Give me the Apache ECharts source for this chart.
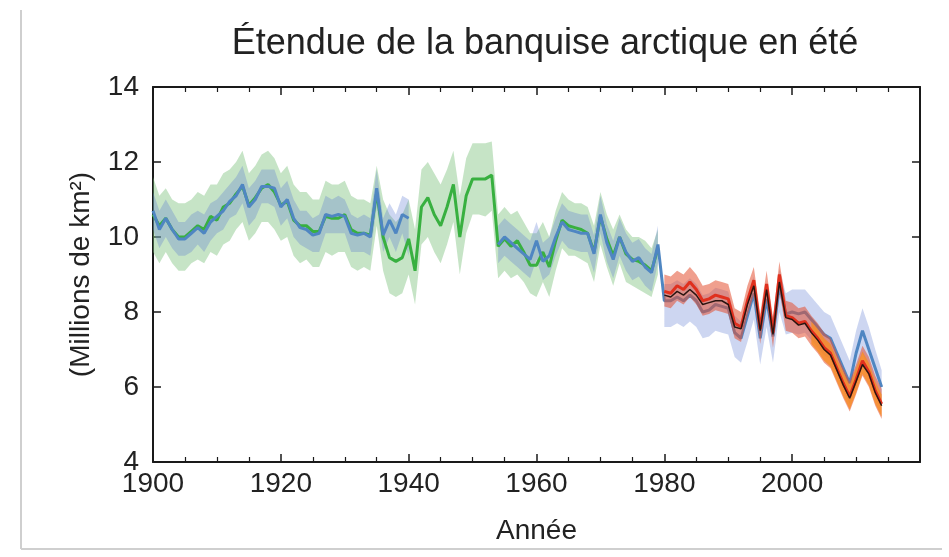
<!DOCTYPE html>
<html><head><meta charset="utf-8">
<script src="https://cdn.jsdelivr.net/npm/echarts@6/dist/echarts.min.js"></script>
<style>html,body{margin:0;padding:0;background:#fff}#c{width:949px;height:557px}</style>
</head><body><div id="c"></div>
<script>
// ---- DATA ----
const histStart = 1900; // 1900..1979
const satStart = 1980;  // 1980..2014
const orangeStart = 2003; // 2003..2014
const xTicks = [1900, 1920, 1940, 1960, 1980, 2000];
const yTicks = [4, 6, 8, 10, 12, 14];

const blueHist = [10.7,10.2,10.5,10.2,9.95,9.95,10.1,10.25,10.1,10.4,
  10.55,10.7,10.95,11.1,11.4,10.8,11.0,11.35,11.35,11.3,
  10.8,11.0,10.5,10.25,10.2,10.05,10.1,10.6,10.55,10.6,
  10.55,10.1,10.05,10.1,10.0,11.3,10.05,10.45,10.1,10.6,
  10.5,null,null,null,null,null,null,null,null,null,
  null,null,null,null,9.8,10.0,9.85,9.7,9.55,9.4,
  9.9,9.35,9.5,10.0,10.4,10.2,10.15,10.1,10.1,9.55,
  10.6,9.85,9.4,10.0,9.6,9.35,9.45,9.2,9.05,9.8];
const blueHistHi = [11.2,10.7,11.0,10.7,10.4,10.4,10.6,10.7,10.6,10.9,
  11.0,11.2,11.4,11.6,11.9,11.3,11.5,11.8,11.8,11.8,
  11.3,11.5,11.0,10.7,10.7,10.5,10.6,11.1,11.0,11.1,
  11.0,10.6,10.5,10.6,10.5,11.8,10.5,10.9,10.6,11.1,
  11.0,null,null,null,null,null,null,null,null,null,
  null,null,null,null,10.3,10.5,10.35,10.2,10.05,9.9,
  10.4,9.85,10.0,10.5,10.9,10.7,10.65,10.6,10.6,10.05,
  11.1,10.35,9.9,10.5,10.1,9.85,9.95,9.7,9.55,10.3];
const blueHistLo = [10.2,9.7,10.0,9.7,9.5,9.5,9.6,9.8,9.6,9.9,
  10.1,10.2,10.5,10.6,10.9,10.3,10.5,10.9,10.9,10.8,
  10.3,10.5,10.0,9.8,9.7,9.6,9.6,10.1,10.1,10.1,
  10.1,9.6,9.6,9.6,9.5,10.8,9.6,10.0,9.6,10.1,
  9.5,null,null,null,null,null,null,null,null,null,
  null,null,null,null,9.3,9.5,9.35,9.2,9.05,8.9,
  9.4,8.85,9.0,9.5,9.9,9.7,9.65,9.6,9.6,9.05,
  10.1,9.35,8.9,9.5,9.1,8.85,8.95,8.7,8.55,9.3];

const greenHist = [10.6,10.3,10.5,10.2,10.0,10.0,10.15,10.3,10.2,10.55,
  10.45,10.8,10.9,11.15,11.35,10.85,11.05,11.3,11.4,11.2,
  10.85,10.95,10.45,10.3,10.3,10.15,10.15,10.55,10.5,10.5,
  10.6,10.2,10.1,10.1,10.05,11.2,10.0,9.45,9.35,9.45,
  9.95,9.1,10.8,11.05,10.6,10.3,10.8,11.4,10.0,11.1,
  11.55,11.55,11.55,11.65,9.75,9.95,9.75,9.9,9.6,9.25,
  9.25,9.6,9.2,9.9,10.45,10.3,10.25,10.2,10.1,9.6,
  10.55,9.95,9.5,10.0,9.55,9.4,9.35,9.25,9.1,9.7];
const greenHi = [11.6,11.1,11.3,11.0,10.9,10.9,11.0,11.2,11.1,11.4,
  11.4,11.7,11.8,12.0,12.3,11.7,11.9,12.2,12.3,12.1,
  11.7,11.9,11.4,11.2,11.2,11.0,11.0,11.5,11.4,11.4,
  11.5,11.1,11.0,11.0,10.9,11.9,11.0,10.6,10.4,10.6,
  11.0,10.2,11.8,12.0,11.7,11.4,11.8,12.3,11.1,12.1,
  12.5,12.5,12.5,12.55,10.6,10.8,10.6,10.7,10.4,10.1,
  10.1,10.4,10.0,10.7,11.2,11.0,10.9,10.9,10.8,10.3,
  11.2,10.6,10.2,10.6,10.2,10.0,10.0,9.9,9.7,10.2];
const greenLo = [9.6,9.3,9.6,9.3,9.1,9.1,9.3,9.4,9.3,9.6,
  9.5,9.8,9.9,10.2,10.4,9.9,10.1,10.4,10.4,10.2,
  9.9,10.0,9.5,9.3,9.4,9.2,9.2,9.6,9.5,9.6,
  9.6,9.2,9.1,9.2,9.1,10.3,9.1,8.5,8.4,8.5,
  9.0,8.2,9.8,10.0,9.6,9.3,9.8,10.4,9.0,10.1,
  10.6,10.6,10.55,10.7,8.9,9.1,8.9,9.0,8.8,8.5,
  8.4,8.8,8.4,9.1,9.7,9.5,9.5,9.4,9.3,8.8,
  9.8,9.2,8.7,9.3,8.8,8.7,8.6,8.5,8.4,9.0];

const blueSat = [8.3,8.3,8.4,8.3,8.45,8.3,8.0,8.05,8.2,8.15,
  8.1,7.45,7.3,7.9,8.5,7.3,8.35,7.35,8.7,7.95,
  8.0,7.95,8.0,7.8,7.6,7.4,7.3,6.9,6.5,6.1,
  6.9,7.5,7.0,6.5,6.0];
const blueSatHi = [8.75,8.75,8.85,8.75,8.9,8.75,8.45,8.5,8.65,8.6,
  8.55,7.9,7.75,8.35,8.95,7.75,8.8,7.8,9.15,8.5,
  8.6,8.6,8.6,8.4,8.2,8.0,7.9,7.5,7.1,6.7,
  7.5,8.1,7.6,7.0,6.45];
const blueSatLo = [7.6,7.6,7.7,7.6,7.75,7.6,7.3,7.35,7.5,7.45,
  7.4,6.8,6.65,7.2,7.8,6.6,7.6,6.65,8.0,7.4,
  7.45,7.4,7.45,7.25,7.05,6.85,6.75,6.35,5.95,5.55,
  6.3,6.9,6.45,5.95,5.5];

const redSat = [8.55,8.5,8.7,8.6,8.8,8.6,8.3,8.35,8.45,8.4,
  8.35,7.7,7.6,8.3,8.85,7.55,8.75,7.45,9.0,7.9,
  7.85,7.7,7.75,7.5,7.3,7.05,6.9,6.5,6.1,5.75,
  6.2,6.7,6.4,5.9,5.55];
const redHi = [9.0,8.95,9.1,9.0,9.2,9.0,8.7,8.75,8.85,8.8,
  8.75,8.1,8.0,8.7,9.2,7.95,9.1,7.85,9.35,8.3,
  8.25,8.1,8.15,7.9,7.7,7.45,7.3,6.9,6.5,6.15,
  6.6,7.1,6.8,6.3,5.95];
const redLo = [8.15,8.1,8.3,8.2,8.4,8.2,7.9,7.95,8.05,8.0,
  7.95,7.3,7.2,7.9,8.45,7.15,8.35,7.05,8.6,7.5,
  7.45,7.3,7.35,7.1,6.9,6.65,6.5,6.1,5.7,5.35,
  5.8,6.3,6.0,5.5,5.15];
const blackSat = [8.45,8.4,8.55,8.45,8.6,8.45,8.2,8.25,8.3,8.3,
  8.2,7.6,7.55,8.2,8.7,7.5,8.6,7.4,8.8,7.85,
  7.8,7.65,7.7,7.45,7.25,7.0,6.85,6.45,6.05,5.7,
  6.15,6.6,6.35,5.85,5.5];
const orangeHi = [7.75,7.55,7.3,7.15,6.75,6.4,6.05,6.5,6.95,6.65,6.15,5.8];
const orangeLo = [7.15,6.95,6.7,6.55,6.15,5.75,5.4,5.85,6.35,6.05,5.55,5.2];

// ---- BUILD ----
function yearsFrom(start, n){ const a=[]; for(let i=0;i<n;i++) a.push(start+i); return a; }
const histYears = yearsFrom(histStart, blueHist.length);
const satYears = yearsFrom(satStart, redSat.length);
const orangeYears = yearsFrom(orangeStart, orangeHi.length);

function pairs(years, vals){ return years.map((y,i)=>[y, vals[i]]); }

function band(name, years, lo, hi, color, z){
  return {
    name, type:'custom', coordinateSystem:'cartesian2d', z, silent:true,
    data: years.map((y,i)=>[y, lo[i], hi[i]]),
    encode:{x:0, y:[1,2]},
    renderItem:function(params, api){
      if(params.dataIndex!==0) return null;
      const segs=[]; let cur=null;
      for(let i=0;i<years.length;i++){
        if(lo[i]==null||hi[i]==null){ if(cur){segs.push(cur);cur=null;} continue; }
        if(!cur) cur=[];
        cur.push(i);
      }
      if(cur) segs.push(cur);
      return {type:'group', children: segs.map(idx=>{
        const up = idx.map(i=>api.coord([years[i], hi[i]]));
        const dn = idx.slice().reverse().map(i=>api.coord([years[i], lo[i]]));
        return {type:'polygon', shape:{points: up.concat(dn)}, style:{fill:color}};
      })};
    }
  };
}

const blueLineData = pairs(histYears, blueHist).concat(pairs(satYears, blueSat));
const font = "'Liberation Sans', Arial, sans-serif";

const axisCommon = {
  axisLine:{show:true, onZero:false, lineStyle:{color:'#1a1a1a', width:2}},
  axisTick:{show:true, inside:true, length:8, lineStyle:{color:'#1a1a1a', width:1.5}},
  splitLine:{show:false}
};

const chart = echarts.init(document.getElementById('c'), null, {renderer:'canvas'});
chart.setOption({
  backgroundColor:'#fff',
  animation:false,
  title:{text:'Étendue de la banquise arctique en été', left:540, top:21, textAlign:'center',
    textStyle:{fontFamily:font, fontSize:36, fontWeight:'normal', color:'#222'}},
  grid:{left:153, right:29, top:87, bottom:95, containLabel:false},
  xAxis:[
    Object.assign({type:'value', min:xTicks[0], max:2020, interval:20, position:'bottom',
      name:'Année', nameLocation:'middle', nameGap:55,
      nameTextStyle:{fontFamily:font, fontSize:28, color:'#222'},
      minorTick:{show:true, splitNumber:4, length:5, lineStyle:{color:'#1a1a1a', width:1.2}},
      axisLabel:{fontFamily:font, fontSize:28, color:'#222', margin:8,
        formatter:v=>xTicks.indexOf(v)>=0?String(v):''}}, axisCommon),
    Object.assign({type:'value', min:xTicks[0], max:2020, interval:20, position:'top',
      minorTick:{show:true, splitNumber:4, length:5, lineStyle:{color:'#1a1a1a', width:1.2}},
      axisLabel:{show:false}}, axisCommon)
  ],
  yAxis:[
    Object.assign({type:'value', min:yTicks[0], max:14, interval:2, position:'left',
      name:'(Millions de km²)', nameLocation:'middle', nameGap:58,
      nameTextStyle:{fontFamily:font, fontSize:28, color:'#222'},
      axisLabel:{fontFamily:font, fontSize:28, color:'#222', margin:14}}, axisCommon),
    Object.assign({type:'value', min:yTicks[0], max:14, interval:2, position:'right',
      axisLabel:{show:false}}, axisCommon)
  ],
  graphic:[
    {type:'line', shape:{x1:21,y1:10,x2:21,y2:549}, style:{stroke:'#cfcfcf', lineWidth:2}},
    {type:'line', shape:{x1:21,y1:549,x2:942,y2:549}, style:{stroke:'#cfcfcf', lineWidth:2}}
  ],
  series:[
    band('greenBand', histYears, greenLo, greenHi, 'rgba(120,190,120,0.42)', 1),
    band('blueBandHist', histYears, blueHistLo, blueHistHi, 'rgba(90,120,210,0.30)', 2),
    band('blueBandSat', satYears, blueSatLo, blueSatHi, 'rgba(90,120,210,0.30)', 2),
    {name:'green', type:'line', z:3, data:pairs(histYears, greenHist), showSymbol:false, symbol:'none',
      lineStyle:{color:'#38b040', width:3}},
    {name:'blue', type:'line', z:4, data:blueLineData, showSymbol:false, symbol:'none', connectNulls:false,
      lineStyle:{color:'#4f86c2', width:3}},
    band('redBand', satYears, redLo, redHi, 'rgba(228,80,50,0.55)', 5),
    band('orangeBand', orangeYears, orangeLo, orangeHi, 'rgba(248,140,30,0.75)', 6),
    {name:'red', type:'line', z:7, data:pairs(satYears, redSat), showSymbol:false, symbol:'none',
      lineStyle:{color:'#e0301e', width:3}},
    {name:'black', type:'line', z:8, data:pairs(satYears, blackSat), showSymbol:false, symbol:'none',
      lineStyle:{color:'#2a1410', width:1.5}}
  ]
});
</script></body></html>
